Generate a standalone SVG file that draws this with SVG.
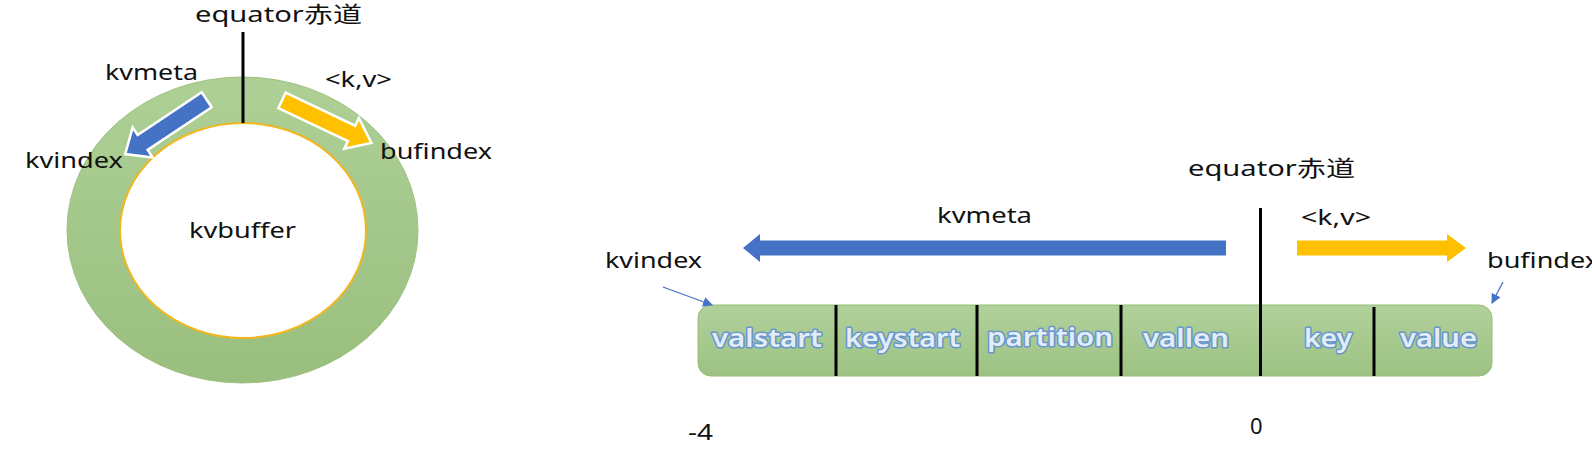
<svg xmlns="http://www.w3.org/2000/svg" width="1592" height="455" viewBox="0 0 1592 455">
  <defs>
    <linearGradient id="ringGrad" x1="0" y1="0" x2="0" y2="1">
      <stop offset="0" stop-color="#aed096"/>
      <stop offset="1" stop-color="#99bf7e"/>
    </linearGradient>
    <linearGradient id="barGrad" x1="0" y1="0" x2="0" y2="1">
      <stop offset="0" stop-color="#b1d19b"/>
      <stop offset="1" stop-color="#9dc283"/>
    </linearGradient>
    <marker id="thinHead" viewBox="0 0 10 10" refX="9" refY="5" markerWidth="10" markerHeight="10" markerUnits="userSpaceOnUse" orient="auto">
      <path d="M0,0 L10,5 L0,10 Z" fill="#4472c4"/>
    </marker>
    <style>
      .lbl { font-family: "Noto Sans", "Open Sans", "Noto Sans CJK SC", sans-serif; font-size: 22px; fill: #111; }
      .cell { font-family: "Noto Sans", "Open Sans", sans-serif; font-size: 26px; font-weight: 600; fill: #e3edf7; stroke: #6a97cc; stroke-width: 3; paint-order: stroke; stroke-linejoin: round; }
      .eq { stroke: #000; stroke-width: 3; fill: none; }
      .div { stroke: #000; stroke-width: 3; }
      .blk { stroke: #fff; stroke-width: 2.5; stroke-linejoin: miter; }
      .thin { stroke: #4472c4; stroke-width: 1.3; fill: none; marker-end: url(#thinHead); }
    </style>
  </defs>
  <rect width="1592" height="455" fill="#fff"/>

  <!-- Left: circular buffer -->
  <g id="ring">
    <ellipse cx="242.5" cy="230" rx="175.5" ry="153" fill="url(#ringGrad)" stroke="#9cc07f" stroke-width="1"/>
    <ellipse cx="243" cy="230.5" rx="123" ry="107.5" fill="#fff" stroke="#f2b61e" stroke-width="2"/>
    <text class="lbl" x="242.5" y="238" text-anchor="middle" textLength="107" lengthAdjust="spacingAndGlyphs">kvbuffer</text>
  </g>
  <g id="left-equator">
    <line class="eq" x1="243" y1="32" x2="243" y2="123" stroke-width="2.5"/>
    <text class="lbl" x="195" y="22" textLength="167" lengthAdjust="spacingAndGlyphs">equator赤道</text>
  </g>
  <g id="left-kvmeta">
    <path class="blk" fill="#4472c4" transform="translate(206.7,99.7) rotate(146.3)" d="M0,-9 L77,-9 L77,-18 L98,0 L77,18 L77,9 L0,9 Z"/>
    <text class="lbl" x="105" y="80" textLength="93" lengthAdjust="spacingAndGlyphs">kvmeta</text>
  </g>
  <g id="left-kv">
    <path class="blk" fill="#ffc000" transform="translate(282,100.4) rotate(25.4)" d="M0,-8.5 L77,-8.5 L77,-17 L99,0 L77,17 L77,8.5 L0,8.5 Z"/>
    <text class="lbl" x="325" y="87" textLength="67" lengthAdjust="spacingAndGlyphs">&lt;k,v&gt;</text>
  </g>
  <g id="left-kvindex">
    <text class="lbl" x="25" y="168" textLength="98" lengthAdjust="spacingAndGlyphs">kvindex</text>
  </g>
  <g id="left-bufindex">
    <text class="lbl" x="380" y="159" textLength="112" lengthAdjust="spacingAndGlyphs">bufindex</text>
  </g>

  <!-- Right: linear layout -->
  <g id="bar">
    <rect x="698" y="305" width="794" height="71" rx="13" ry="13" fill="url(#barGrad)" stroke="#95bd77" stroke-width="1"/>
    <line class="div" x1="836" y1="305" x2="836" y2="376"/>
    <line class="div" x1="977" y1="305" x2="977" y2="376"/>
    <line class="div" x1="1121" y1="305" x2="1121" y2="376"/>
    <line class="div" x1="1374" y1="307" x2="1374" y2="376"/>
  </g>
  <g id="cell-valstart"><text class="cell" x="712" y="347" textLength="110" lengthAdjust="spacingAndGlyphs">valstart</text></g>
  <g id="cell-keystart"><text class="cell" x="845" y="347" textLength="115" lengthAdjust="spacingAndGlyphs">keystart</text></g>
  <g id="cell-partition"><text class="cell" x="987" y="346" textLength="126" lengthAdjust="spacingAndGlyphs">partition</text></g>
  <g id="cell-vallen"><text class="cell" x="1143" y="347" textLength="86" lengthAdjust="spacingAndGlyphs">vallen</text></g>
  <g id="cell-key"><text class="cell" x="1304" y="347" textLength="48" lengthAdjust="spacingAndGlyphs">key</text></g>
  <g id="cell-value"><text class="cell" x="1400" y="347" textLength="77" lengthAdjust="spacingAndGlyphs">value</text></g>

  <g id="right-equator">
    <line class="eq" x1="1260.5" y1="208" x2="1260.5" y2="376"/>
    <text class="lbl" x="1188" y="176" textLength="167" lengthAdjust="spacingAndGlyphs">equator赤道</text>
  </g>
  <g id="right-kvmeta">
    <path fill="#4472c4" d="M1226,240.5 L760,240.5 L760,234 L743,248 L760,262 L760,255.5 L1226,255.5 Z"/>
    <text class="lbl" x="937" y="223" textLength="95" lengthAdjust="spacingAndGlyphs">kvmeta</text>
  </g>
  <g id="right-kv">
    <path fill="#ffc000" d="M1297,240.5 L1447,240.5 L1447,234 L1466,248 L1447,262 L1447,255.5 L1297,255.5 Z"/>
    <text class="lbl" x="1301" y="225" textLength="70" lengthAdjust="spacingAndGlyphs">&lt;k,v&gt;</text>
  </g>
  <g id="right-kvindex">
    <text class="lbl" x="605" y="268" textLength="97" lengthAdjust="spacingAndGlyphs">kvindex</text>
  </g>
  <g id="right-bufindex">
    <text class="lbl" x="1487" y="268" textLength="112" lengthAdjust="spacingAndGlyphs">bufindex</text>
  </g>
  <g id="pos-minus4"><text class="lbl" x="688" y="440" textLength="25" lengthAdjust="spacingAndGlyphs">-4</text></g>
  <g id="pos-0"><text class="lbl" x="1250" y="434">0</text></g>

  <g id="connectors">
    <line class="thin" x1="663" y1="287" x2="712" y2="305"/>
    <line class="thin" x1="1503" y1="282" x2="1492" y2="303"/>
  </g>
</svg>
